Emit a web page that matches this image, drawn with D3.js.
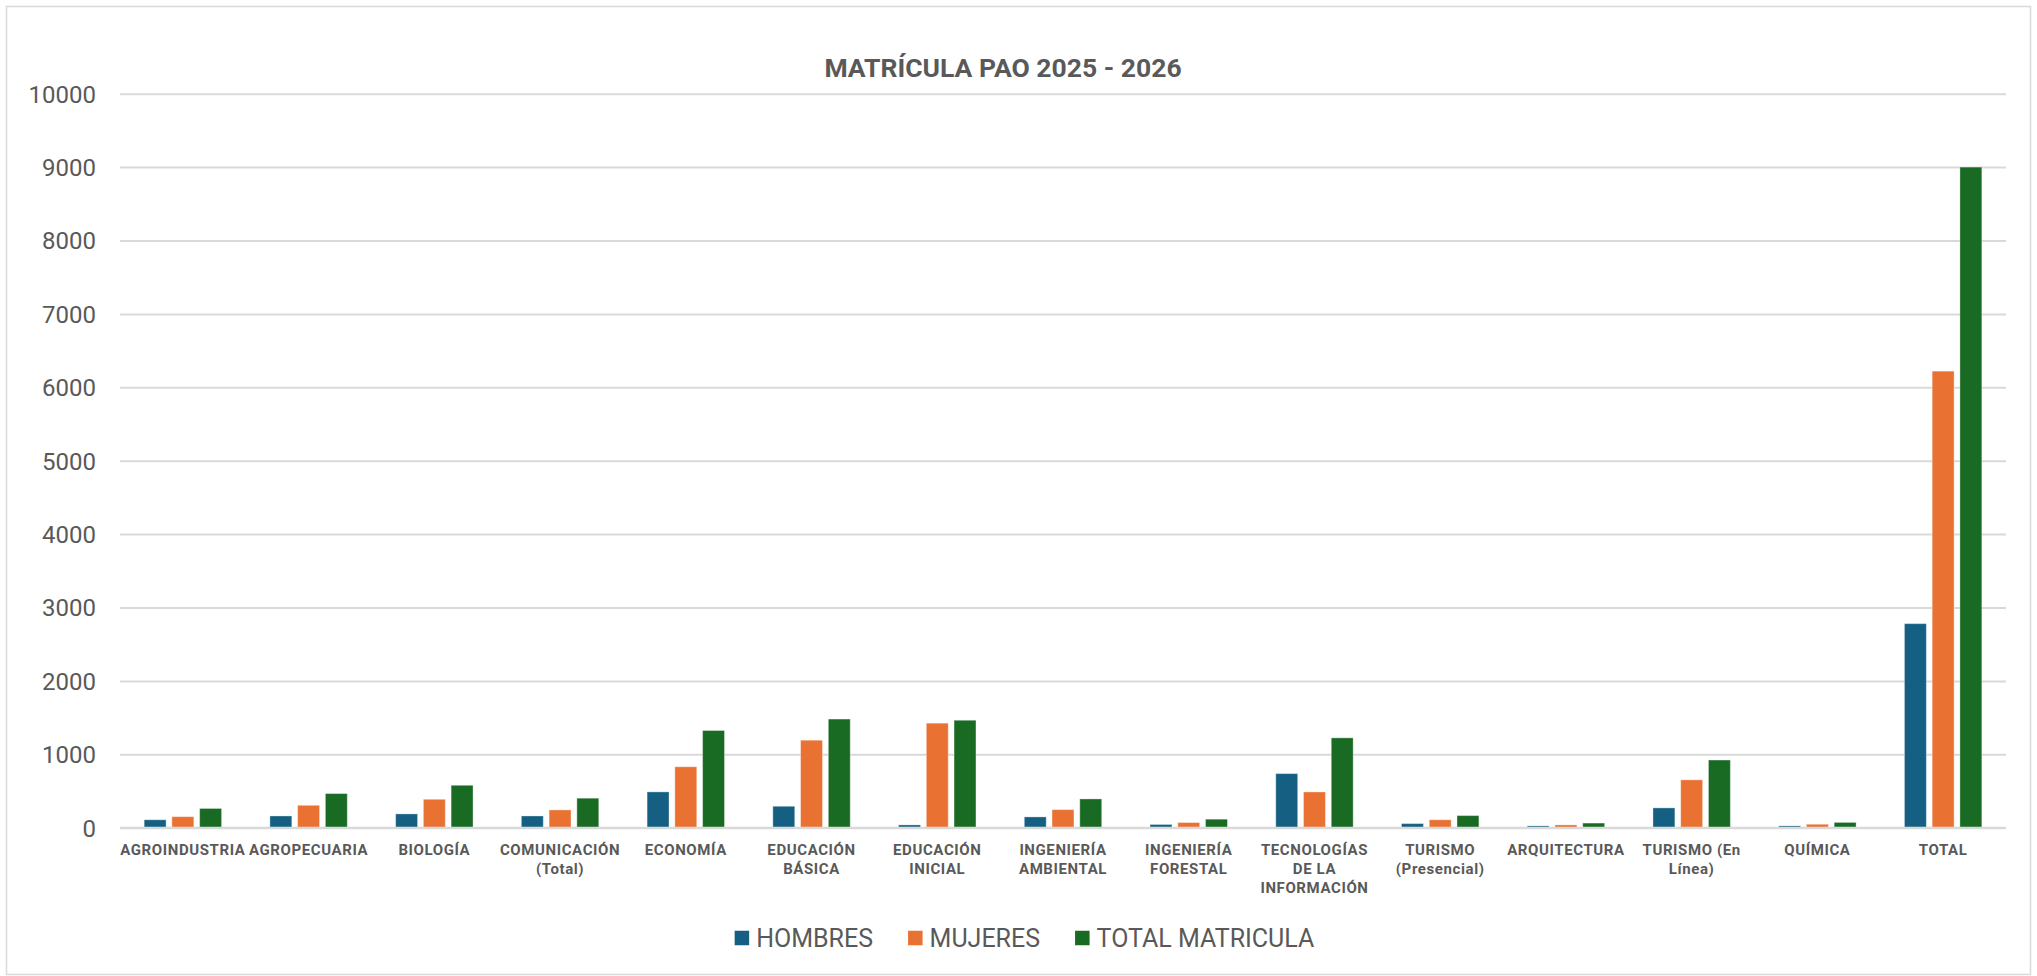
<!DOCTYPE html>
<html>
<head>
<meta charset="utf-8">
<script src="https://cdn.jsdelivr.net/npm/d3@7"></script>
<style>
  html, body { margin: 0; padding: 0; background: #fff; }
  svg { display: block; }
  text { font-family: Roboto, "Noto Sans", Arial, sans-serif; }
</style>
</head>
<body>
<svg id="chart" width="2037" height="976"></svg>
<script>
const categories = [
  "AGROINDUSTRIA", "AGROPECUARIA", "BIOLOGÍA", "COMUNICACIÓN (Total)", "ECONOMÍA",
  "EDUCACIÓN BÁSICA", "EDUCACIÓN INICIAL", "INGENIERÍA AMBIENTAL", "INGENIERÍA FORESTAL",
  "TECNOLOGÍAS DE LA INFORMACIÓN", "TURISMO (Presencial)", "ARQUITECTURA",
  "TURISMO (En Línea)", "QUÍMICA", "TOTAL"
];
const tickLabelLines = [
  ["AGROINDUSTRIA"], ["AGROPECUARIA"], ["BIOLOGÍA"], ["COMUNICACIÓN", "(Total)"], ["ECONOMÍA"],
  ["EDUCACIÓN", "BÁSICA"], ["EDUCACIÓN", "INICIAL"], ["INGENIERÍA", "AMBIENTAL"], ["INGENIERÍA", "FORESTAL"],
  ["TECNOLOGÍAS", "DE LA", "INFORMACIÓN"], ["TURISMO", "(Presencial)"], ["ARQUITECTURA"],
  ["TURISMO (En", "Línea)"], ["QUÍMICA"], ["TOTAL"]
];
const seriesNames = ["HOMBRES", "MUJERES", "TOTAL MATRICULA"];
const hombres = [108, 160, 188, 160, 488, 292, 38, 147, 44, 737, 56, 25, 270, 25, 2780];
const mujeres = [150, 305, 387, 242, 830, 1192, 1424, 246, 70, 487, 108, 38, 652, 47, 6220];
const totalMatricula = [262, 465, 578, 402, 1324, 1480, 1464, 392, 116, 1224, 165, 63, 922, 72, 9000];
const yTicks = [0, 1000, 2000, 3000, 4000, 5000, 6000, 7000, 8000, 9000, 10000];
const colors = ["#156082", "#E97132", "#196B24"];
const title = "MATRÍCULA PAO 2025 - 2026";

const svg = d3.select("#chart");
const W = 2037, H = 976;
const plot = { left: 120, right: 2006, top: 93.7, bottom: 827.7 };

// chart border
svg.append("rect")
  .attr("x", 6.5).attr("y", 6.5).attr("width", W - 13).attr("height", H - 8)
  .attr("fill", "#fff").attr("stroke", "#D9D9D9").attr("stroke-width", 1.5);

const y = d3.scaleLinear().domain([0, 10000]).range([plot.bottom, plot.top]);
const pIn = 0.3844;
const x0 = d3.scaleBand().domain(categories).range([plot.left, plot.right])
  .paddingInner(pIn).paddingOuter(pIn / 2);
const x1 = d3.scaleBand().domain(seriesNames).range([0, x0.bandwidth()]).paddingInner(0.21);

// gridlines
const yAxis = d3.axisLeft(y).tickValues(yTicks).tickSize(-(plot.right - plot.left)).tickPadding(24)
  .tickFormat(d3.format("d"));
const gy = svg.append("g").attr("transform", `translate(${plot.left},0)`).call(yAxis);
gy.select(".domain").remove();
gy.selectAll(".tick line").attr("stroke", "#D9D9D9").attr("stroke-width", 2);
gy.selectAll(".tick text")
  .attr("fill", "#595959").attr("font-size", 24).attr("font-family", "Roboto")
  .attr("dy", "0.35em");

// bars
const data = categories.map((c, i) => ({ cat: c, vals: [hombres[i], mujeres[i], totalMatricula[i]] }));
const groups = svg.append("g").selectAll("g").data(data).join("g")
  .attr("transform", d => `translate(${x0(d.cat)},0)`);
groups.selectAll("rect")
  .data(d => d.vals.map((v, k) => ({ key: seriesNames[k], v, k })))
  .join("rect")
  .attr("x", d => x1(d.key))
  .attr("width", x1.bandwidth())
  .attr("y", d => y(d.v))
  .attr("height", d => y(0) - y(d.v))
  .attr("fill", d => colors[d.k])
  .attr("stroke", "#ffffff").attr("stroke-opacity", 0.35).attr("stroke-width", 1);

// x axis line (zero) on top
svg.append("line")
  .attr("x1", plot.left).attr("x2", plot.right)
  .attr("y1", y(0)).attr("y2", y(0))
  .attr("stroke", "#D9D9D9").attr("stroke-width", 2);

// x tick labels
const xAxis = d3.axisBottom(x0).tickSize(0).tickFormat("");
const gx = svg.append("g").attr("transform", `translate(0,${plot.bottom})`).call(xAxis);
gx.select(".domain").remove();
gx.selectAll(".tick").each(function(d, i) {
  const t = d3.select(this).append("text")
    .attr("text-anchor", "middle")
    .attr("fill", "#595959")
    .attr("font-size", 15)
    .attr("letter-spacing", "0.6px")
    .attr("font-weight", 700)
    .attr("font-family", "Roboto");
  tickLabelLines[i].forEach((ln, j) => {
    t.append("tspan").attr("x", 0).attr("y", 27 + j * 19).text(ln);
  });
});

// title
svg.append("text")
  .attr("x", 1003).attr("y", 76.5)
  .attr("text-anchor", "middle")
  .attr("fill", "#595959")
  .attr("font-size", 26.5)
  .attr("font-weight", 700)
  .text(title);

// legend
const legend = svg.append("g");
let cx = 0;
const sq = 14.5, gapSqText = 7, gapItem = 35;
seriesNames.forEach((s, k) => {
  const g = legend.append("g").attr("transform", `translate(${cx},0)`);
  g.append("rect").attr("x", 0).attr("y", -sq / 2).attr("width", sq).attr("height", sq).attr("fill", colors[k]);
  const t = g.append("text").attr("x", sq + gapSqText).attr("y", 0).attr("dy", "0.35em")
    .attr("fill", "#595959").attr("font-size", 25).text(s);
  cx += sq + gapSqText + t.node().getComputedTextLength() + gapItem;
});
const legendW = cx - gapItem;
legend.attr("transform", `translate(${1024.5 - legendW / 2},938)`);
</script>
</body>
</html>
